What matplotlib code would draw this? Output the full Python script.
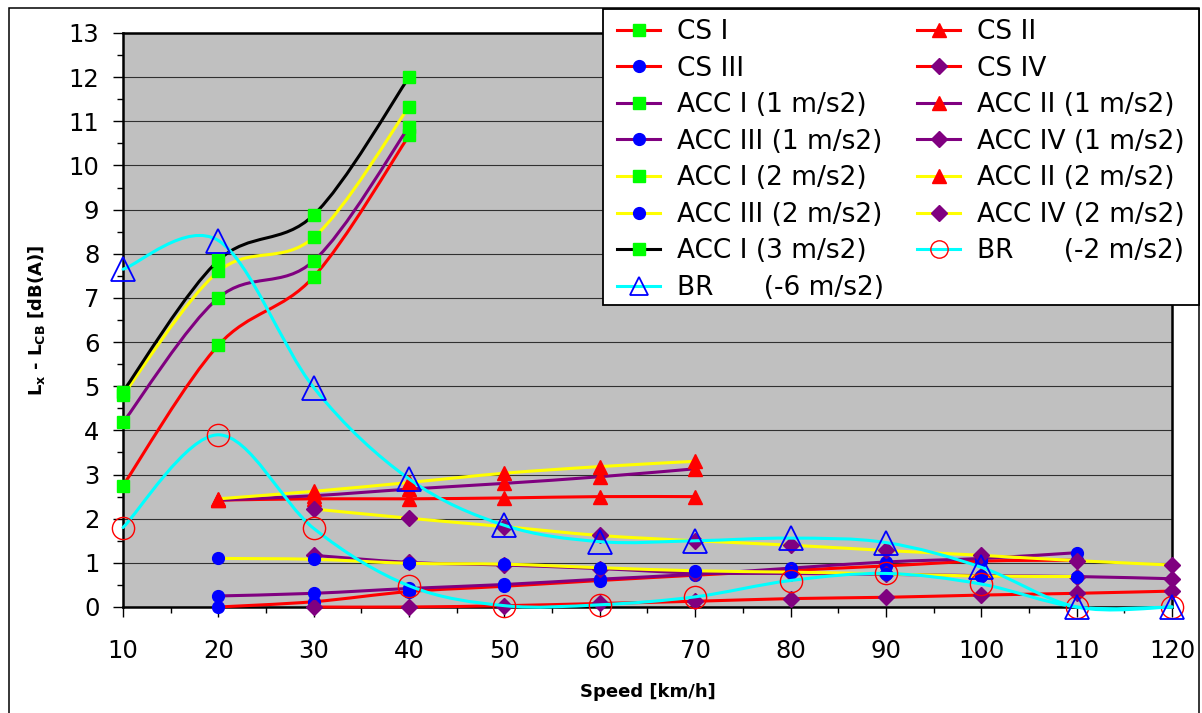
import numpy as np
import matplotlib
matplotlib.use("Agg")
import matplotlib.pyplot as plt
from matplotlib.path import Path
from matplotlib.patches import PathPatch, Rectangle
from matplotlib.lines import Line2D
from matplotlib.ticker import MultipleLocator

# speeds in km/h
speed = [10, 20, 30, 40, 50, 60, 70, 80, 90, 100, 110, 120]
N = None

# L_x - L_CB [dB(A)] per series, None = no value
cs_1 = [2.75, 5.93, 7.48, 10.68, N, N, N, N, N, N, N, N]
cs_2 = [N, 2.42, 2.45, 2.45, 2.47, 2.5, 2.5, N, N, N, N, N]
cs_3 = [N, 0.0, 0.12, 0.35, 0.47, 0.6, 0.72, 0.83, 0.93, 1.04, 1.06, N]
cs_4 = [N, N, 0.0, 0.0, 0.03, 0.08, 0.13, 0.19, 0.22, 0.27, 0.31, 0.36]
acc1_1 = [4.18, 7.0, 7.84, 10.88, N, N, N, N, N, N, N, N]
acc2_1 = [N, 2.42, 2.52, 2.67, 2.8, 2.95, 3.13, N, N, N, N, N]
acc3_1 = [N, 0.25, 0.31, 0.42, 0.51, 0.63, 0.74, 0.88, 1.02, 1.1, 1.23, N]
acc4_1 = [N, N, 1.17, 1.01, 0.95, 0.87, 0.77, 0.76, 0.74, 0.71, 0.69, 0.64]
acc1_2 = [4.8, 7.6, 8.37, 11.33, N, N, N, N, N, N, N, N]
acc2_2 = [N, 2.45, 2.62, 2.82, 3.03, 3.18, 3.3, N, N, N, N, N]
acc3_2 = [N, 1.1, 1.08, 0.99, 0.97, 0.89, 0.82, 0.79, 0.75, 0.7, 0.69, N]
acc4_2 = [N, N, 2.22, 2.01, 1.82, 1.62, 1.5, 1.4, 1.28, 1.17, 1.05, 0.95]
acc1_3 = [4.88, 7.85, 8.88, 12.0, N, N, N, N, N, N, N, N]
br_2 = [1.8, 3.9, 1.78, 0.48, 0.03, 0.05, 0.23, 0.6, 0.76, 0.52, 0.0, 0.0]
br_6 = [7.65, 8.3, 4.97, 2.9, 1.85, 1.48, 1.5, 1.56, 1.46, 0.9, 0.0, 0.0]

labels = ["CS I", "CS II", "CS III", "CS IV",
          "ACC I (1 m/s2)", "ACC II (1 m/s2)", "ACC III (1 m/s2)", "ACC IV (1 m/s2)",
          "ACC I (2 m/s2)", "ACC II (2 m/s2)", "ACC III (2 m/s2)", "ACC IV (2 m/s2)",
          "ACC I (3 m/s2)", "BR      (-2 m/s2)", "BR      (-6 m/s2)"]
series = [cs_1, cs_2, cs_3, cs_4, acc1_1, acc2_1, acc3_1, acc4_1,
          acc1_2, acc2_2, acc3_2, acc4_2, acc1_3, br_2, br_6]

RED, PURPLE, YELLOW, CYAN = "#FF0000", "#800080", "#FFFF00", "#00FFFF"
GREEN, BLUE = "#00FF00", "#0000FF"
line_colors = [RED] * 4 + [PURPLE] * 4 + [YELLOW] * 4 + ["black", CYAN, CYAN]

sq = dict(marker="s", ms=8.5, mfc=GREEN, mec=GREEN)
tri = dict(marker="^", ms=10, mfc=RED, mec=RED)
dot = dict(marker="o", ms=8.5, mfc=BLUE, mec=BLUE)
dia = dict(marker="D", ms=7.8, mfc=PURPLE, mec=PURPLE)
ring = dict(marker="o", ms=16, mfc="none", mec=RED, mew=1.0)
otri = dict(marker="^", ms=17, mfc="none", mec=BLUE, mew=1.3)
markers = [sq, tri, dot, dia] * 3 + [sq, ring, otri]


def smooth_path(xs, ys):
    # excel-like smoothed line (catmull-rom as bezier)
    p = np.column_stack([xs, ys]).astype(float)
    n = len(p)
    verts = [p[0]]
    codes = [Path.MOVETO]
    for i in range(n - 1):
        a = p[i - 1] if i > 0 else p[i]
        d = p[i + 2] if i + 2 < n else p[i + 1]
        verts += [p[i] + (p[i + 1] - a) / 6, p[i + 1] - (d - p[i]) / 6, p[i + 1]]
        codes += [Path.CURVE4] * 3
    return Path(verts, codes)


fig = plt.figure(figsize=(12.02, 7.13), dpi=100)
ax = fig.add_axes([123 / 1202, 1 - 607 / 713, 1049 / 1202, 574 / 713])
ax.set_facecolor("#C0C0C0")

for k, (vals, col, mk) in enumerate(zip(series, line_colors, markers)):
    xs = [s for s, v in zip(speed, vals) if v is not None]
    ys = [v for v in vals if v is not None]
    z = 3 + k * 0.1
    ax.add_patch(PathPatch(smooth_path(xs, ys), fill=False, ec=col, lw=2.2,
                           zorder=z, clip_on=False, capstyle="round"))
    ax.plot(xs, ys, ls="none", zorder=z + 0.05, clip_on=False, **mk)

ax.set_xlim(10, 120)
ax.set_ylim(0, 13)
ax.xaxis.set_major_locator(MultipleLocator(10))
ax.xaxis.set_minor_locator(MultipleLocator(5))
ax.yaxis.set_major_locator(MultipleLocator(1))
ax.yaxis.set_minor_locator(MultipleLocator(0.5))
ax.grid(axis="y", which="major", color="#303030", lw=0.8)
ax.set_axisbelow(True)
for sp in ax.spines.values():
    sp.set_linewidth(1.8)
    sp.set_color("black")
ax.tick_params(which="major", direction="out", length=7, width=1.0, labelsize=17.5)
ax.tick_params(which="minor", direction="out", length=4, width=1.0)
ax.tick_params(axis="x", which="major", pad=16)
ax.tick_params(axis="y", which="major", pad=10)

ax.set_xlabel("Speed [km/h]", fontsize=13, fontweight="bold")
ax.set_ylabel(r"$\mathbf{L_x}$ - $\mathbf{L_{CB}}$ [dB(A)]", fontsize=13, fontweight="bold")
ax.xaxis.set_label_coords(0.5, -0.132)
ax.yaxis.set_label_coords(-0.0725, 0.5)

# outer chart border and legend box
fig.patches.append(Rectangle((9 / 1202, -0.01), 1190 / 1202, 1 - 8 / 713 + 0.01,
                             transform=fig.transFigure, fill=False, ec="black",
                             lw=1.1, zorder=0))
fig.patches.append(Rectangle((603 / 1202, 1 - 305 / 713), 596 / 1202, 296 / 713,
                             transform=fig.transFigure, fc="white", ec="black",
                             lw=1.3, zorder=4))

handles = []
for col, mk, lab in zip(line_colors, markers, labels):
    m = dict(mk)
    if m["mfc"] == "none":
        m["ms"] = 12.5
    handles.append(Line2D([], [], color=col, lw=2.2, label=lab, **m))
# legend is filled row by row in the original
order = [0, 2, 4, 6, 8, 10, 12, 14, 1, 3, 5, 7, 9, 11, 13]
fig.legend([handles[i] for i in order], [labels[i] for i in order], ncol=2,
           loc="upper left", bbox_to_anchor=(617 / 1202, 1 - 19 / 713),
           frameon=False, fontsize=19, borderpad=0, borderaxespad=0,
           handlelength=1.63, handletextpad=0.65, columnspacing=1.25,
           labelspacing=0.4, numpoints=1)

fig.savefig("out.png", dpi=100)
